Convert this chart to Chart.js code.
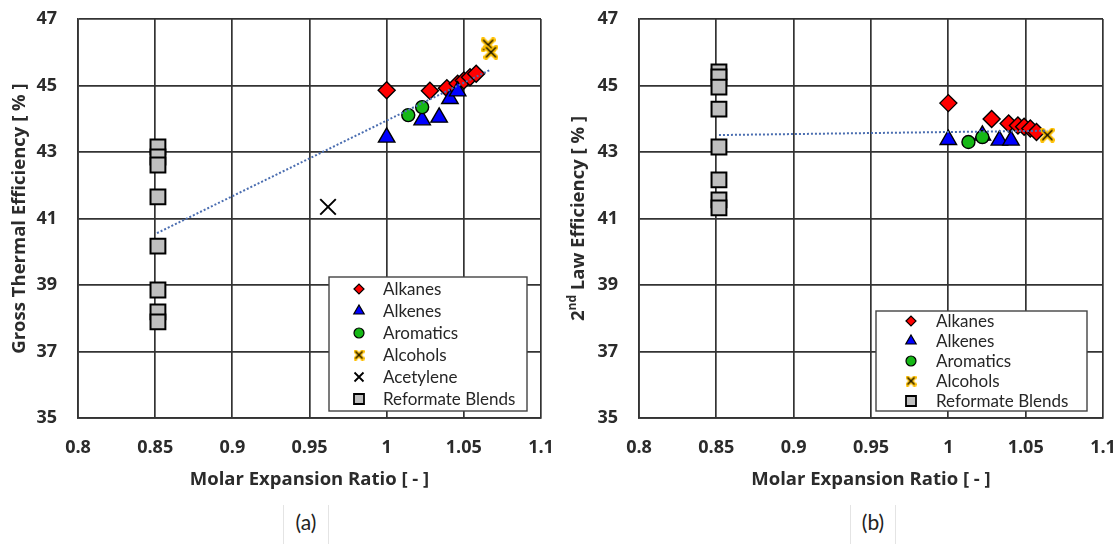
<!DOCTYPE html>
<html>
<head>
<meta charset="utf-8">
<script src="https://cdn.jsdelivr.net/npm/chart.js@4/dist/chart.umd.min.js"></script>
<style>
html,body{margin:0;padding:0;background:#fff;}
#wrap{position:relative;width:1120px;height:544px;overflow:hidden;background:#fff;}
canvas{position:absolute;top:0;}
#ca{left:0;}
#cb{left:560px;}
.lab{position:absolute;top:505px;height:39px;font:21px Lato,sans-serif;color:#222;line-height:34px;text-align:center;border-left:1px solid #e4e4e4;border-right:1px solid #e4e4e4;}
</style>
</head>
<body>
<div id="wrap">
  <canvas id="ca" width="560" height="500"></canvas>
  <canvas id="cb" width="560" height="500"></canvas>
  <div class="lab" style="left:283px;width:44px;">(a)</div>
  <div class="lab" style="left:850px;width:44px;">(b)</div>
</div>
<script>
// ---------- tick labels & legend text ----------
const xTickLabels = ['0.8', '0.85', '0.9', '0.95', '1', '1.05', '1.1'];
const yTickLabels = ['35', '37', '39', '41', '43', '45', '47'];
const legendLabelsA = ['Alkanes', 'Alkenes', 'Aromatics', 'Alcohols', 'Acetylene', 'Reformate Blends'];
const legendLabelsB = ['Alkanes', 'Alkenes', 'Aromatics', 'Alcohols', 'Reformate Blends'];

// ---------- (a) Gross Thermal Efficiency ----------
const alkanesA_x   = [1.000, 1.028, 1.039, 1.046, 1.050, 1.054, 1.058];
const alkanesA_y   = [44.86, 44.84, 44.92, 45.05, 45.15, 45.25, 45.35];
const alkenesA_x   = [1.000, 1.023, 1.034, 1.041, 1.046];
const alkenesA_y   = [43.44, 43.96, 44.04, 44.60, 44.83];
const aromaticsA_x = [1.014, 1.023];
const aromaticsA_y = [44.11, 44.35];
const alcoholsA_x  = [1.0657, 1.0676];
const alcoholsA_y  = [46.22, 46.00];
const acetyleneA_x = [0.962];
const acetyleneA_y = [41.35];
const reformateA_x = [0.8518, 0.8518, 0.8518, 0.8518, 0.8518, 0.8518, 0.8518, 0.8518];
const reformateA_y = [43.15, 42.85, 42.61, 41.65, 40.17, 38.85, 38.19, 37.89];
const trendA_x     = [0.8512, 1.067];
const trendA_y     = [40.56, 45.47];

// ---------- (b) 2nd Law Efficiency ----------
const alkanesB_x   = [1.000, 1.028, 1.039, 1.045, 1.049, 1.053, 1.057];
const alkanesB_y   = [44.47, 43.99, 43.86, 43.80, 43.76, 43.71, 43.60];
const alkenesB_x   = [1.000, 1.022, 1.033, 1.0405];
const alkenesB_y   = [43.37, 43.50, 43.35, 43.35];
const aromaticsB_x = [1.013, 1.022];
const aromaticsB_y = [43.30, 43.45];
const alcoholsB_x  = [1.064];
const alcoholsB_y  = [43.51];
const reformateB_x = [0.8517, 0.8517, 0.8517, 0.8517, 0.8517, 0.8517, 0.8517, 0.8517];
const reformateB_y = [45.41, 45.26, 44.95, 44.29, 43.15, 42.16, 41.56, 41.32];
const trendB_x     = [0.8517, 1.064];
const trendB_y     = [43.51, 43.64];

// ---------- helpers ----------
const pts = (xs, ys) => xs.map((x, i) => ({x: x, y: ys[i]}));
const FONT = 'Lato, "Open Sans", sans-serif';
const AXFONT = '"Open Sans", "Noto Sans", sans-serif';
const GRID = '#333333';
const TXT = '#2b2b2b';
const COL = {
  alkanes: '#FF0000', alkenes: '#0000FF', aromatics: '#16B816',
  alcohols: '#FFC000', reformate: '#BFBFBF', trend: '#4A6DB0'
};

function makeXMarker(size, thick, thin) {
  const c = document.createElement('canvas');
  c.width = size; c.height = size;
  const g = c.getContext('2d');
  const p = thick / 2;
  g.lineCap = 'square';
  g.strokeStyle = COL.alcohols; g.lineWidth = thick;
  g.beginPath();
  g.moveTo(p, p); g.lineTo(size - p, size - p);
  g.moveTo(size - p, p); g.lineTo(p, size - p);
  g.stroke();
  g.lineCap = 'butt';
  g.strokeStyle = '#000'; g.lineWidth = thin;
  g.beginPath();
  g.moveTo(p, p); g.lineTo(size - p, size - p);
  g.moveTo(size - p, p); g.lineTo(p, size - p);
  g.stroke();
  return c;
}
const alcoholMarker = makeXMarker(15, 5, 1.3);
const alcoholLegend = makeXMarker(11, 4, 1.1);

function ds(label, data, style, radius, bg, order, extra) {
  return Object.assign({
    label: label, data: data, pointStyle: style, pointRadius: radius, pointHoverRadius: radius,
    backgroundColor: bg, borderColor: '#000', borderWidth: 1.4, pointBorderWidth: 1.4,
    showLine: false, order: order
  }, extra || {});
}

function datasetsFor(p) {
  const arr = [
    ds('trend', p.trend, 'circle', 0, COL.trend, 0,
       {showLine: true, borderColor: COL.trend, borderWidth: 2, borderDash: [2, 2], pointRadius: 0, pointHoverRadius: 0}),
    ds('Reformate Blends', p.reformate, 'rect', 10.5, COL.reformate, 6, {borderWidth: 2, pointBorderWidth: 2}),
    ds('Alkanes', p.alkanes, 'rectRot', 8.5, COL.alkanes, 5),
    ds('Alkenes', p.alkenes, 'triangle', 9.5, COL.alkenes, 4),
    ds('Aromatics', p.aromatics, 'circle', 6.5, COL.aromatics, 3),
    ds('Alcohols', p.alcohols, alcoholMarker, 7.5, COL.alcohols, 2)
  ];
  if (p.acetylene) {
    arr.push(ds('Acetylene', p.acetylene, 'crossRot', 11, '#000', 1, {borderWidth: 2, pointBorderWidth: 2}));
  }
  return arr;
}

function drawMarker(ctx, label, x, y) {
  ctx.save();
  ctx.lineWidth = 1.2;
  ctx.strokeStyle = '#000';
  ctx.beginPath();
  if (label === 'Alkanes') {
    const r = 5;
    ctx.fillStyle = COL.alkanes;
    ctx.moveTo(x - r, y); ctx.lineTo(x, y - r); ctx.lineTo(x + r, y); ctx.lineTo(x, y + r); ctx.closePath();
    ctx.fill(); ctx.stroke();
  } else if (label === 'Alkenes') {
    const r = 6;
    ctx.fillStyle = COL.alkenes;
    ctx.moveTo(x, y - r);
    ctx.lineTo(x + r * 0.866, y + r * 0.5);
    ctx.lineTo(x - r * 0.866, y + r * 0.5);
    ctx.closePath();
    ctx.fill(); ctx.stroke();
  } else if (label === 'Aromatics') {
    ctx.fillStyle = COL.aromatics;
    ctx.arc(x, y, 5, 0, Math.PI * 2);
    ctx.fill(); ctx.stroke();
  } else if (label === 'Alcohols') {
    ctx.drawImage(alcoholLegend, x - alcoholLegend.width / 2, y - alcoholLegend.height / 2);
  } else if (label === 'Acetylene') {
    const r = 4.5;
    ctx.lineWidth = 1.8;
    ctx.moveTo(x - r, y - r); ctx.lineTo(x + r, y + r);
    ctx.moveTo(x + r, y - r); ctx.lineTo(x - r, y + r);
    ctx.stroke();
  } else {
    const h = 5;
    ctx.lineWidth = 1.8;
    ctx.fillStyle = COL.reformate;
    ctx.rect(x - h, y - h, 2 * h, 2 * h);
    ctx.fill(); ctx.stroke();
  }
  ctx.restore();
}

function legendPlugin(cfg) {
  return {
    id: 'boxLegend',
    afterDraw(chart) {
      const ctx = chart.ctx;
      ctx.save();
      ctx.fillStyle = '#fff';
      ctx.fillRect(cfg.x, cfg.y, cfg.w, cfg.h);
      ctx.strokeStyle = '#444';
      ctx.lineWidth = 1.4;
      ctx.strokeRect(cfg.x, cfg.y, cfg.w, cfg.h);
      ctx.font = '17px ' + FONT;
      ctx.fillStyle = '#262626';
      ctx.textBaseline = 'middle';
      ctx.textAlign = 'left';
      cfg.labels.forEach((lab, i) => {
        const yy = cfg.row0 + i * cfg.step;
        drawMarker(ctx, lab, cfg.mx, yy);
        ctx.fillText(lab, cfg.tx, yy + 1);
      });
      ctx.restore();
    }
  };
}

const supTitlePlugin = {
  id: 'supTitle',
  afterDraw(chart) {
    const ctx = chart.ctx;
    const ca = chart.chartArea;
    const cy = (ca.top + ca.bottom) / 2;
    const cx = 19;
    const big = 'bold 18.5px ' + AXFONT, small = 'bold 12px ' + AXFONT;
    const parts = [['2', big, 0], ['nd', small, -6], [' Law Efficiency [ % ]', big, 0]];
    ctx.save();
    let total = 0;
    parts.forEach(p => { ctx.font = p[1]; p.push(ctx.measureText(p[0]).width); total += p[3]; });
    ctx.translate(cx, cy);
    ctx.rotate(-Math.PI / 2);
    ctx.fillStyle = TXT;
    ctx.textBaseline = 'middle';
    ctx.textAlign = 'left';
    let xx = -total / 2;
    parts.forEach(p => { ctx.font = p[1]; ctx.fillText(p[0], xx, p[2]); xx += p[3]; });
    ctx.restore();
  }
};

function scalesFor(yTitle, yWidth) {
  return {
    x: {
      type: 'linear', min: 0.8, max: 1.1,
      afterFit: s => { s.height = 82; s.paddingLeft = 0; s.paddingRight = 0; },
      grid: {color: GRID, lineWidth: 1.7, drawTicks: false},
      border: {display: true, color: GRID, width: 1.7},
      ticks: {
        stepSize: 0.05, padding: 19.2, color: TXT, maxRotation: 0,
        font: {family: AXFONT, size: 18, weight: 'bold'},
        callback: v => { const l = xTickLabels.find(t => Math.abs(parseFloat(t) - v) < 1e-6); return l === undefined ? '' : l; }
      },
      title: {display: true, text: 'Molar Expansion Ratio [ - ]', color: TXT,
              font: {family: AXFONT, size: 18.5, weight: 'bold'}, padding: {top: 0, bottom: 8.9}}
    },
    y: {
      type: 'linear', min: 35, max: 47,
      afterFit: s => { s.width = yWidth; s.paddingTop = 0; s.paddingBottom = 0; },
      grid: {color: GRID, lineWidth: 1.7, drawTicks: false},
      border: {display: true, color: GRID, width: 1.7},
      ticks: {
        stepSize: 2, padding: 21, color: TXT,
        font: {family: AXFONT, size: 18, weight: 'bold'},
        callback: v => { const l = yTickLabels.find(t => Math.abs(parseFloat(t) - v) < 1e-6); return l === undefined ? '' : l; }
      },
      title: {display: !!yTitle, text: yTitle || '', color: TXT,
              font: {family: AXFONT, size: 18.5, weight: 'bold'}, padding: {top: 8.9, bottom: 0}}
    }
  };
}

function build() {
  new Chart(document.getElementById('ca'), {
    type: 'scatter',
    data: {datasets: datasetsFor({
      trend: pts(trendA_x, trendA_y), reformate: pts(reformateA_x, reformateA_y),
      alkanes: pts(alkanesA_x, alkanesA_y), alkenes: pts(alkenesA_x, alkenesA_y),
      aromatics: pts(aromaticsA_x, aromaticsA_y), alcohols: pts(alcoholsA_x, alcoholsA_y),
      acetylene: pts(acetyleneA_x, acetyleneA_y)
    })},
    options: {
      responsive: false, animation: false, devicePixelRatio: 1,
      layout: {padding: {left: 0, top: 19, right: 19, bottom: 0}},
      plugins: {legend: {display: false}, tooltip: {enabled: false}},
      scales: scalesFor('Gross Thermal Efficiency [ % ]', 78)
    },
    plugins: [legendPlugin({x: 329, y: 277, w: 198, h: 134, row0: 289, step: 22, mx: 359, tx: 383, labels: legendLabelsA})]
  });

  new Chart(document.getElementById('cb'), {
    type: 'scatter',
    data: {datasets: datasetsFor({
      trend: pts(trendB_x, trendB_y), reformate: pts(reformateB_x, reformateB_y),
      alkanes: pts(alkanesB_x, alkanesB_y), alkenes: pts(alkenesB_x, alkenesB_y),
      aromatics: pts(aromaticsB_x, aromaticsB_y), alcohols: pts(alcoholsB_x, alcoholsB_y)
    })},
    options: {
      responsive: false, animation: false, devicePixelRatio: 1,
      layout: {padding: {left: 0, top: 19, right: 17, bottom: 0}},
      plugins: {legend: {display: false}, tooltip: {enabled: false}},
      scales: scalesFor(null, 79)
    },
    plugins: [legendPlugin({x: 316, y: 311, w: 211, h: 100, row0: 321, step: 20, mx: 351, tx: 376, labels: legendLabelsB}), supTitlePlugin]
  });
}
if (document.fonts && document.fonts.load) {
  Promise.all([document.fonts.load('bold 18px "Open Sans"'), document.fonts.load('17px Lato')]).then(build, build);
} else { build(); }
</script>
</body>
</html>
